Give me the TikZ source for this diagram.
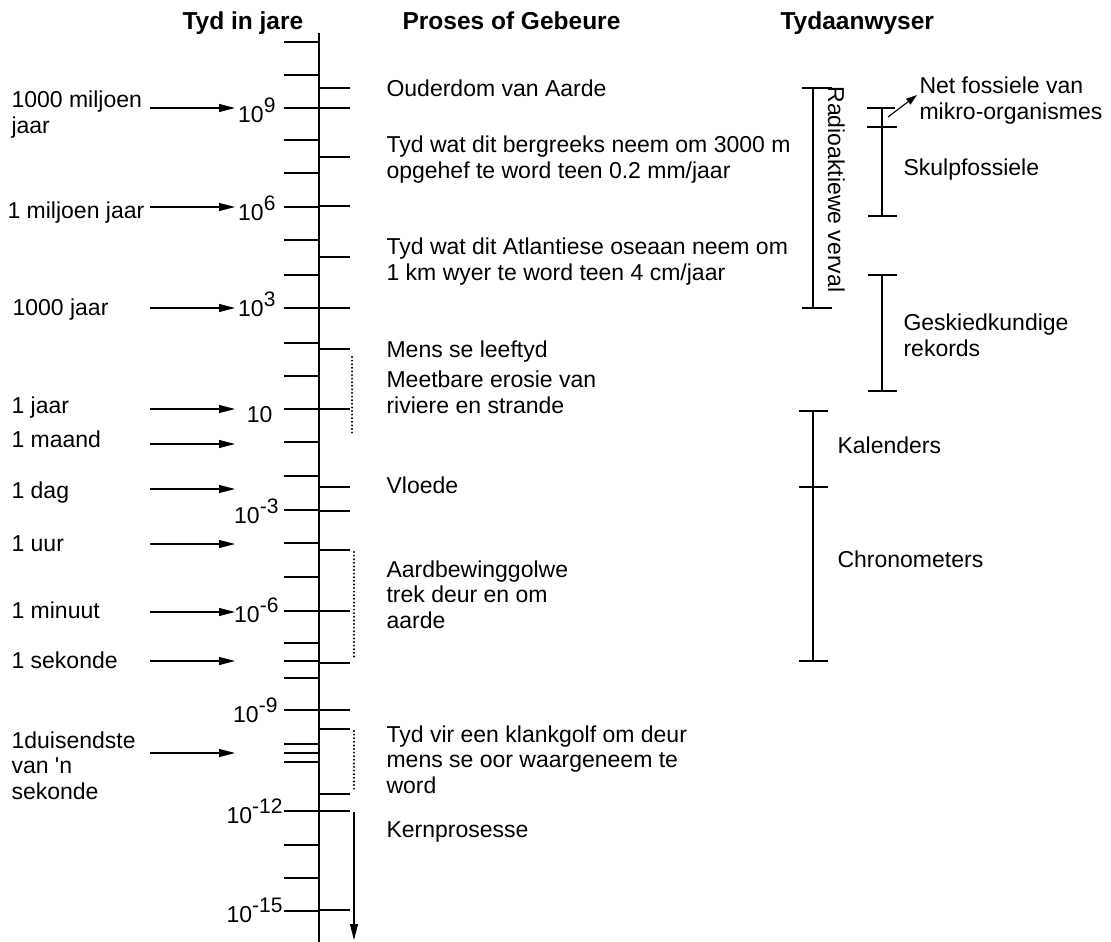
\documentclass[tikz,border=0pt]{standalone}
\usepackage{fontspec}
\setmainfont{Liberation Sans}
\usetikzlibrary{arrows.meta}
\newcommand{\tien}[1]{10\raisebox{10pt}{\fontsize{21}{21}\selectfont #1}}

\begin{document}
\begin{tikzpicture}[x=1pt, y=-1pt, line width=1.1pt, font=\fontsize{23}{25.5}\selectfont,
    lbl/.style={anchor=base west, inner sep=0pt, align=left},
    hdr/.style={anchor=base west, inner sep=0pt, font=\fontsize{24.5}{28}\selectfont\bfseries},
    mag/.style={anchor=base east, inner sep=0pt},
    pyl/.style={-{Triangle[length=16pt, width=8pt]}},
    stip/.style={line width=2.2pt, line cap=round, dash pattern=on 0pt off 3.6pt}]
    \useasboundingbox (0, 0) rectangle (1111, 942);
    \node[hdr] (h1) at (182, 30) {Tyd in jare};
    \node[hdr] (h2) at (402, 30) {Proses of Gebeure};
    \node[hdr] (h3) at (780, 30) {Tydaanwyser};
    \draw (319, 33) -- (319, 942);
    \foreach \y in {42, 75, 108, 140, 173, 207, 240, 275, 308, 343, 376, 409, 442, 476, 510, 543, 577, 611, 643, 661, 678, 710, 744, 753, 762, 811, 845, 878, 911}
      \draw (284, \y) -- (319, \y);
    \foreach \y in {88, 108, 157, 206, 257, 308, 349, 409, 487, 511, 550, 611, 663, 710, 729, 794, 811, 910}
      \draw (319, \y) -- (350, \y);
    \node[mag] (v9) at (276, 122) {\tien{9}};
    \node[mag] (v6) at (276, 220) {\tien{6}};
    \node[mag] (v3) at (276, 316) {\tien{3}};
    \node[mag] (v1) at (273, 422) {10};
    \node[mag] (vm3) at (279, 523) {\tien{-3}};
    \node[mag] (vm6) at (279, 622) {\tien{-6}};
    \node[mag] (vm9) at (278, 722) {\tien{-9}};
    \node[mag] (vm12) at (283, 823) {\tien{-12}};
    \node[mag] (vm15) at (283, 922) {\tien{-15}};
    \node[lbl] (l1) at (11, 133) {1000 miljoen\\jaar};
    \node[lbl] (l2) at (7, 218) {1 miljoen jaar};
    \node[lbl] (l3) at (12, 315) {1000 jaar};
    \node[lbl] (l4) at (11, 413) {1 jaar};
    \node[lbl] (l5) at (11, 447) {1 maand};
    \node[lbl] (l6) at (11, 498) {1 dag};
    \node[lbl] (l7) at (11, 551) {1 uur};
    \node[lbl] (l8) at (11, 618) {1 minuut};
    \node[lbl] (l9) at (11, 668) {1 sekonde};
    \node[lbl] (l10) at (11, 799) {1duisendste\\van \textquotesingle n\\sekonde};
    \foreach \y [count=\i] in {108, 207, 308, 409, 444, 489, 544, 612, 661, 753} {
      \coordinate (s\i) at (150, \y);
      \coordinate (e\i) at (235, \y);
      \draw[pyl] (s\i) -- (e\i);
    }
    \node[lbl] (p1) at (386, 96) {Ouderdom van Aarde};
    \node[lbl] (p2) at (386, 178) {Tyd wat dit bergreeks neem om 3000 m\\opgehef te word teen 0.2 mm/jaar};
    \node[lbl] (p3) at (386, 280) {Tyd wat dit Atlantiese oseaan neem om\\1 km wyer te word teen 4 cm/jaar};
    \node[lbl] (p4) at (386, 357) {Mens se leeftyd};
    \node[lbl] (p5) at (386, 413) {Meetbare erosie van\\riviere en strande};
    \node[lbl] (p6) at (386, 493) {Vloede};
    \node[lbl] (p7) at (386, 628) {Aardbewinggolwe\\trek deur en om\\aarde};
    \node[lbl] (p8) at (386, 793) {Tyd vir een klankgolf om deur\\mens se oor waargeneem te\\word};
    \node[lbl] (p9) at (386, 837) {Kernprosesse};
    \draw[stip] (352, 357) -- (352, 436);
    \draw[stip] (354, 552) -- (354, 657);
    \draw[stip] (354, 731) -- (354, 792);
    \coordinate (k1) at (354, 812);
    \coordinate (k2) at (354, 940);
    \draw[pyl] (k1) -- (k2);
    \draw (813, 88) -- (813, 308);
    \draw (802, 88) -- (832, 88);
    \draw (802, 308) -- (832, 308);
    \node[lbl, rotate=-90] (r1) at (828, 86) {Radioaktiewe verval};
    \draw (882, 108) -- (882, 216);
    \draw (867, 108) -- (895, 108);
    \draw (867, 127) -- (897, 127);
    \draw (868, 216) -- (897, 216);
    \draw (882, 275) -- (882, 391);
    \draw (868, 275) -- (897, 275);
    \draw (868, 391) -- (897, 391);
    \draw (813, 411) -- (813, 661);
    \draw (799, 411) -- (828, 411);
    \draw (799, 487) -- (828, 487);
    \draw (799, 661) -- (828, 661);
    \node[lbl] (r2) at (919, 119) {Net fossiele van\\mikro-organismes};
    \coordinate (n1) at (888, 117);
    \coordinate (n2) at (917, 95);
    \draw[-{Triangle[length=11pt, width=7pt]}] (n1) -- (n2);
    \node[lbl] (r3) at (903, 175) {Skulpfossiele};
    \node[lbl] (r4) at (903, 356) {Geskiedkundige\\rekords};
    \node[lbl] (r5) at (837, 453) {Kalenders};
    \node[lbl] (r6) at (837, 567) {Chronometers};
\end{tikzpicture}
\end{document}
